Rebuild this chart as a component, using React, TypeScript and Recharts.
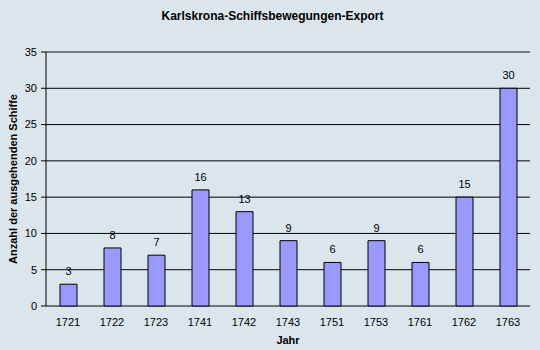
import React from "react";
import { BarChart, Bar, XAxis, YAxis, CartesianGrid, LabelList, ReferenceLine } from "recharts";

const years = ["1721", "1722", "1723", "1741", "1742", "1743", "1751", "1753", "1761", "1762", "1763"];
const ships = [3, 8, 7, 16, 13, 9, 6, 9, 6, 15, 30];
const yTicks = [0, 5, 10, 15, 20, 25, 30, 35];
const boundaryTicks = [0, 1, 2, 3, 4, 5, 6, 7, 8, 9, 10, 11];

const data = years.map((year, i) => ({ year, ships: ships[i], idx: i + 0.5 }));

const FONT = "Arial, 'Liberation Sans', sans-serif";
const BG = "#dbe6ec";

export default function App() {
  return (
    <div style={{ position: "absolute", left: 0, top: 0, width: 540, height: 350, background: BG, fontFamily: FONT }}>
      <div
        style={{
          position: "absolute",
          left: 0,
          top: 9,
          width: 545,
          textAlign: "center",
          fontSize: 12,
          fontWeight: "bold",
          color: "#000",
          fontFamily: FONT,
        }}
      >
        Karlskrona-Schiffsbewegungen-Export
      </div>
      <BarChart
        width={540}
        height={350}
        data={data}
        margin={{ top: 52, right: 10, bottom: 14, left: 0 }}
        barCategoryGap={0}
      >
        <CartesianGrid vertical={false} stroke="#000" strokeWidth={1} fill={BG} />
        <XAxis
          xAxisId="b"
          dataKey="idx"
          type="number"
          domain={[0, 11]}
          ticks={boundaryTicks}
          tick={false}
          tickLine={{ stroke: "#000" }}
          tickSize={5}
          axisLine={{ stroke: "#000" }}
          height={0}
        />
        <XAxis
          dataKey="year"
          height={30}
          tickLine={false}
          axisLine={false}
          tickSize={5}
          tickMargin={7}
          tick={{ fill: "#000", fontSize: 11, fontFamily: FONT }}
          label={{ value: "Jahr", position: "bottom", offset: 0, fill: "#000", fontSize: 11, fontWeight: "bold", fontFamily: FONT }}
        />
        <YAxis
          domain={[0, 35]}
          ticks={yTicks}
          width={46}
          tickSize={5}
          tickMargin={4}
          interval={0}
          axisLine={{ stroke: "#000" }}
          tickLine={{ stroke: "#000" }}
          tick={{ fill: "#000", fontSize: 11, fontFamily: FONT }}
          label={{
            value: "Anzahl der ausgehenden Schiffe",
            angle: -90,
            position: "insideLeft",
            offset: 13,
            style: { textAnchor: "middle" },
            fill: "#000",
            fontSize: 11,
            fontWeight: "bold",
            fontFamily: FONT,
          }}
        />
        <YAxis yAxisId="r" orientation="right" width={0} tick={false} tickLine={false} axisLine={{ stroke: "#808080" }} domain={[0, 35]} />
        <ReferenceLine y={35} stroke="#808080" />
        <Bar dataKey="ships" fill="#9999ff" stroke="#000" strokeWidth={1} barSize={17} isAnimationActive={false}>
          <LabelList dataKey="ships" position="top" offset={9} fill="#000" fontSize={11} fontFamily={FONT} />
        </Bar>
      </BarChart>
    </div>
  );
}
